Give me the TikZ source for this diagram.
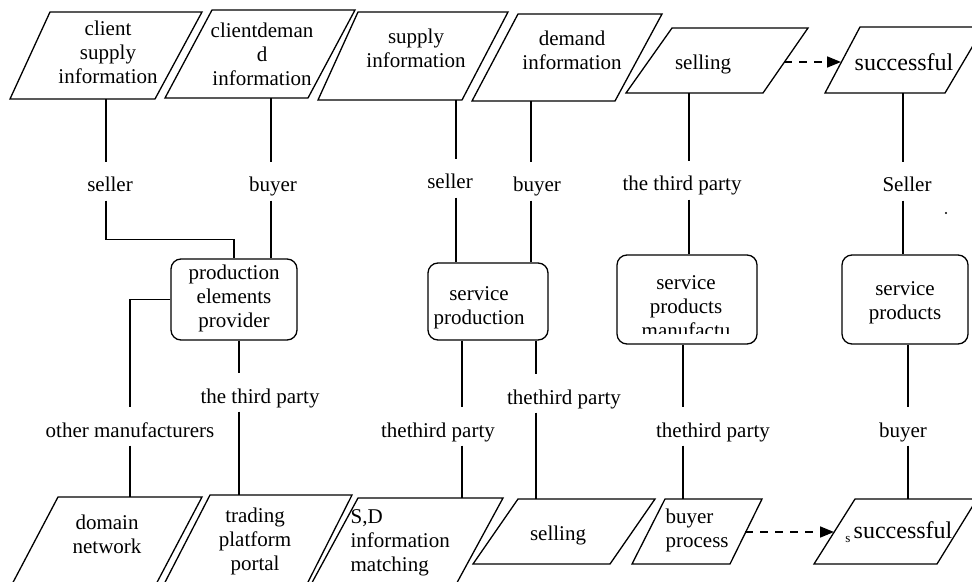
\documentclass[tikz,border=0pt]{standalone}
\usepackage{fontspec}
\setmainfont{Liberation Serif}
\usetikzlibrary{arrows.meta}

\begin{document}
\begin{tikzpicture}[x=0.5pt,y=-0.5pt,line width=0.65pt,
	every node/.style={font=\fontsize{10.5}{12}\selectfont,inner sep=0pt},
	paratext/.style={align=center,execute at begin node=\strut,execute at end node=\strut},
	bigtext/.style={font=\fontsize{12}{14}\selectfont},
	rolelabel/.style={anchor=base,text height=10.5pt,text depth=0pt,inner ysep=4pt,inner xsep=1pt},
	procbox/.style={draw,rounded corners=5pt,paratext},
	flow/.style={line width=0.8pt,dash pattern=on 4pt off 3.5pt,-{Triangle[length=7pt,width=5.5pt]}},
	]
	\useasboundingbox (0,0) rectangle (972,582);
	
	% the input parallelograms (top row)
	\draw (50,12) -- (202,12) -- (155,99) -- (10,99) -- cycle;
	\draw (212,10) -- (355,10) -- (308,98) -- (165,98) -- cycle;
	\draw (358,12) -- (508,12) -- (462,100) -- (318,100) -- cycle;
	\draw (518,14) -- (662,14) -- (615,101) -- (472,101) -- cycle;
	\draw (672,28) -- (808,28) -- (763,93) -- (626,93) -- cycle;
	\draw (860,27) -- (984,27) -- (945,93) -- (825,93) -- cycle;
	
	\node[paratext] (csi) at (108,56) {client\\supply\\information};
	\node[paratext] (cdi) at (262,58) {clientdeman\\d\\information};
	\node[paratext] (si) at (416,52) {supply\\information};
	\node[paratext] (di) at (572,54) {demand\\information};
	\node[paratext] (sel) at (703,65) {selling};
	\node[paratext,bigtext] (suc) at (904,65) {successful};
	
	% the output parallelograms (bottom row)
	\draw (58,497) -- (202,497) -- (153,590) -- (9,590) -- cycle;
	\draw (210,495) -- (352,495) -- (304,590) -- (161,590) -- cycle;
	\draw (358,498) -- (503,498) -- (453,590) -- (308,590) -- cycle;
	\draw (518,499) -- (655,499) -- (610,564) -- (473,564) -- cycle;
	\draw (665,499) -- (762,499) -- (730,564) -- (632,564) -- cycle;
	\draw (855,499) -- (977,499) -- (937,564) -- (814,564) -- cycle;
	
	\node[paratext] (dn) at (107,538) {domain\\network};
	\node[paratext] (tpp) at (255,543) {trading\\platform\\portal};
	\node[paratext,align=left,anchor=west] (sdm) at (350,544) {S,D\\information\\matching};
	\node[paratext] (sel2) at (558,536) {selling};
	\node[paratext,align=left,anchor=west] (bp) at (665,532) {buyer\\process};
	\node[paratext,bigtext] (suc2) at (903,533) {successful};
	\node[font=\fontsize{6.5}{7}\selectfont] (sfrag) at (848,539) {s};
	
	% the rounded boxes
	\node[procbox,minimum width=63pt,minimum height=40.5pt] (pep) at (234,299.5) {production\\elements\\provider};
	\node[procbox,minimum width=60pt,minimum height=38.5pt] (sp) at (488,301.5) {};
	\node[paratext] (sptext) at (479,309) {service\\production};
	\node[procbox,minimum width=70pt,minimum height=44.5pt] (spm) at (687,299.5) {};
	\begin{scope}
	\clip (spm.north west) rectangle (spm.east |- 0,333);
	\node[paratext] (spmtext) at (686,310) {service\\products\\manufactu};
	\end{scope}
	\node[procbox,minimum width=63pt,minimum height=44.5pt] (spr) at (905,299.5) {};
	\node[paratext] (sprtext) at (905,304) {service\\products};
	
	% role labels
	\node[rolelabel] (seller1) at (110,192) {seller};
	\node[rolelabel] (buyer1) at (273,192) {buyer};
	\node[rolelabel] (seller2) at (450,189) {seller};
	\node[rolelabel] (buyer2) at (537,192) {buyer};
	\node[rolelabel] (third1) at (682,191) {the third party};
	\node[rolelabel] (seller3) at (907,192) {Seller};
	\node[rolelabel] (third2) at (260,403) {the third party};
	\node[rolelabel] (third3) at (564,404) {thethird party};
	\node[rolelabel] (om) at (130,437) {other manufacturers};
	\node[rolelabel] (third4) at (438,437) {thethird party};
	\node[rolelabel] (third5) at (713,437) {thethird party};
	\node[rolelabel] (buyer3) at (903,437) {buyer};
	
	\fill (946,213) circle (0.6pt);
	
	% connector ends on the parallelograms
	\coordinate (csi-b) at (106,99);
	\coordinate (cdi-b) at (271,98);
	\coordinate (si-b) at (456,100);
	\coordinate (di-b) at (531,101);
	\coordinate (sel-b) at (689,93);
	\coordinate (suc-b) at (903,93);
	\coordinate (dn-t) at (130,497);
	\coordinate (tpp-t) at (239,495);
	\coordinate (sdm-t) at (462,498);
	\coordinate (sel2-t) at (536,499);
	\coordinate (bp-t) at (683,499);
	\coordinate (suc2-t) at (908,499);
	\coordinate (sel-r) at (784,62);
	\coordinate (suc-l) at (841,62);
	\coordinate (bp-r) at (745,532);
	\coordinate (suc2-l) at (834,532);
	
	% production elements provider
	\draw (csi-b) -- (csi-b |- seller1.north);
	\draw (csi-b |- seller1.south) -- ++(0,39) -| (pep.north);
	\draw (cdi-b) -- (cdi-b |- buyer1.north);
	\draw (cdi-b |- buyer1.south) -- (cdi-b |- pep.north);
	\draw (pep.west) -| (dn-t |- om.north);
	\draw (dn-t |- om.south) -- (dn-t);
	\draw (pep.south -| tpp-t) -- (tpp-t |- third2.north);
	\draw (tpp-t |- third2.south) -- (tpp-t);
	
	% service production
	\draw (si-b) -- (si-b |- seller2.north);
	\draw (si-b |- seller2.south) -- (si-b |- sp.north);
	\draw (di-b) -- (di-b |- buyer2.north);
	\draw (di-b |- buyer2.south) -- (di-b |- sp.north);
	\draw (sp.south -| sdm-t) -- (sdm-t |- third4.north);
	\draw (sdm-t |- third4.south) -- (sdm-t);
	\draw (sp.south -| sel2-t) -- (sel2-t |- third3.north);
	\draw (sel2-t |- third3.south) -- (sel2-t);
	
	% service products manufacturer
	\draw (sel-b) -- (sel-b |- third1.north);
	\draw (sel-b |- third1.south) -- (sel-b |- spm.north);
	\draw (spm.south -| bp-t) -- (bp-t |- third5.north);
	\draw (bp-t |- third5.south) -- (bp-t);
	
	% service products
	\draw (suc-b) -- (suc-b |- seller3.north);
	\draw (suc-b |- seller3.south) -- (suc-b |- spr.north);
	\draw (spr.south -| suc2-t) -- (suc2-t |- buyer3.north);
	\draw (suc2-t |- buyer3.south) -- (suc2-t);
	
	% dashed flows
	\draw[flow] (sel-r) -- (suc-l);
	\draw[flow] (bp-r) -- (suc2-l);
	
\end{tikzpicture}
\end{document}
